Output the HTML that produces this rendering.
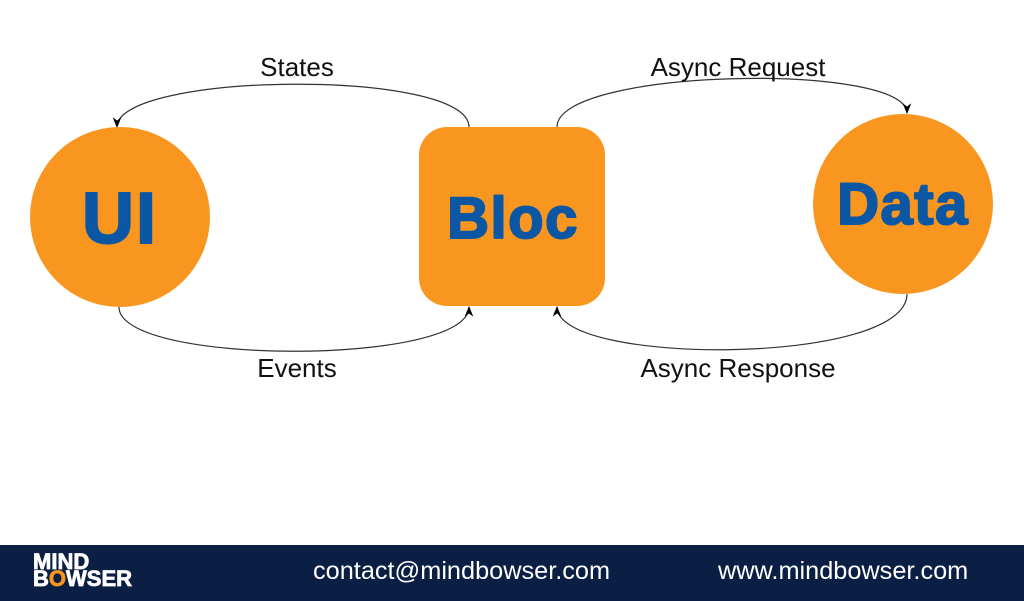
<!DOCTYPE html>
<html><head><meta charset="utf-8"><style>
html,body{margin:0;padding:0;width:1024px;height:601px;overflow:hidden;background:#fff;font-family:"Liberation Sans",sans-serif}
</style></head><body>
<svg width="1024" height="601" viewBox="0 0 1024 601" xmlns="http://www.w3.org/2000/svg" style="position:absolute;left:0;top:0">
<defs><marker id="a" viewBox="0 0 10 10" refX="9" refY="5" markerWidth="9" markerHeight="9" orient="auto-start-reverse"><path d="M0,1 L10,5 L0,9 L3,5 z" fill="#000"/></marker></defs>
<rect width="1024" height="601" fill="#fff"/>
<g fill="none" stroke="#333" stroke-width="1.2">
<path d="M469,127 C469,68 117,72 117,127" marker-end="url(#a)"/>
<path d="M557,127 C557,68 907,62 907,113" marker-end="url(#a)"/>
<path d="M119,307 C119,366 469,366 469,307" marker-end="url(#a)"/>
<path d="M907,294 C907,366 557,366 557,307" marker-end="url(#a)"/>
</g>
<circle cx="120" cy="217" r="90" fill="#F9961F"/>
<rect x="419" y="127" width="186" height="179" rx="28" fill="#F9961F"/>
<circle cx="903" cy="204" r="90" fill="#F9961F"/>
<g font-family="Liberation Sans, sans-serif" font-weight="bold" fill="#0B57A4" stroke="#0B57A4" stroke-width="2" stroke-linejoin="round" text-anchor="middle">
<text x="120" y="243" font-size="72" letter-spacing="2">UI</text>
<text x="513" y="238" font-size="58" letter-spacing="1.5">Bloc</text>
<text x="903" y="224" font-size="58" letter-spacing="1.5">Data</text>
</g>
<g font-family="Liberation Sans, sans-serif" font-size="26" fill="#111" text-anchor="middle">
<text x="297" y="76">States</text>
<text x="738" y="76">Async Request</text>
<text x="297" y="377">Events</text>
<text x="738" y="377">Async Response</text>
</g>
<rect x="0" y="545" width="1024" height="56" fill="#0B1F44"/>
<g font-family="Liberation Sans, sans-serif" font-weight="bold" fill="#fff" stroke="#fff" stroke-width="0.8" font-size="22">
<text x="33" y="569">MIND</text>
<text x="33" y="586">B<tspan fill="#F9961F" stroke="#F9961F">O</tspan>WSER</text>
</g>
<g font-family="Liberation Sans, sans-serif" font-size="25.3" fill="#fff">
<text x="313" y="579">contact@mindbowser.com</text>
<text x="718" y="579">www.mindbowser.com</text>
</g>
</svg>
</body></html>
